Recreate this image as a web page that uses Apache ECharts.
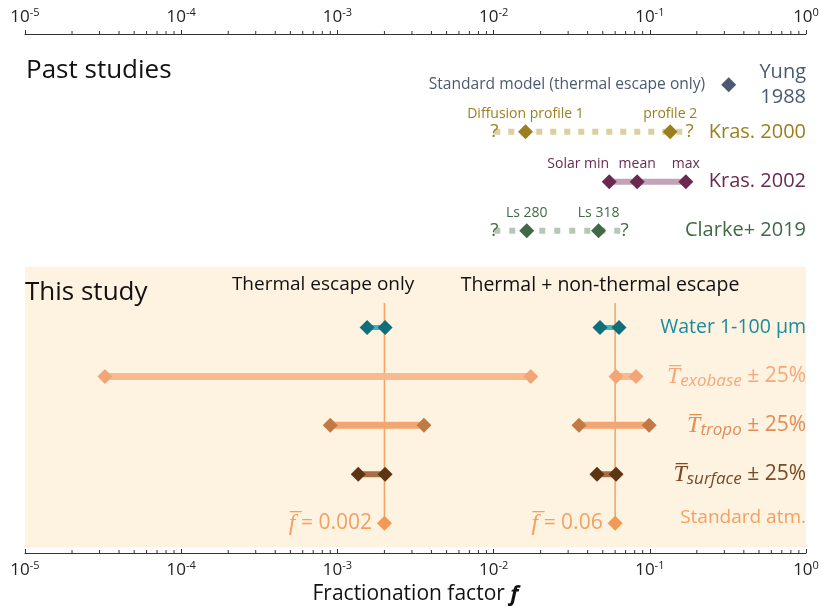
<!DOCTYPE html>
<html>
<head>
<meta charset="utf-8">
<script src="https://cdn.jsdelivr.net/npm/echarts@6/dist/echarts.min.js"></script>
<style>
  html, body { margin: 0; padding: 0; background: #fff; }
  #main { width: 830px; height: 615px; }
</style>
</head>
<body>
<div id="main"></div>
<script>
// ---- data ----
var yungF = [0.32];
var kras2000F = [0.016, 0.135];
var kras2000Range = [0.0101, 0.18];
var kras2002F = [0.055, 0.083, 0.17];
var clarkeF = [0.0163, 0.047];
var clarkeRange = [0.0101, 0.069];

var waterThermal = [0.00155, 0.00202];
var waterNonThermal = [0.048, 0.0635];
var exobaseThermal = [3.25e-5, 0.0173];
var exobaseNonThermal = [0.0608, 0.0816];
var tropoThermal = [0.0009, 0.00358];
var tropoNonThermal = [0.0352, 0.099];
var surfaceThermal = [0.00136, 0.00202];
var surfaceNonThermal = [0.0459, 0.0608];
var standardF = [0.002, 0.06];

var tickExponents = [-5, -4, -3, -2, -1, 0];
var minorMantissa = [2, 3, 4, 5, 6, 7, 8, 9];

var kras2000Labels = ['Diffusion profile 1', 'profile 2'];
var kras2002Labels = ['Solar min', 'mean', 'max'];
var clarkeLabels = ['Ls 280', 'Ls 318'];

// row positions (y axis runs top -> bottom)
var row = { yung: 1.04, kras2000: 2, kras2002: 3.02, clarke: 4.02,
            water: 6, exobase: 7, tropo: 8, surface: 9, standard: 10 };
var yMax = 10.61;

var FONT = 'Open Sans';

function range(xs, y, color, width, dash) {
  return {
    type: 'line', silent: true, z: 2, symbol: 'none', animation: false,
    data: [[xs[0], y], [xs[xs.length - 1], y]],
    lineStyle: { color: color, width: width, type: dash || 'solid', cap: 'butt' }
  };
}

function vline(x, y0, y1, color, width) {
  return {
    type: 'line', silent: true, z: 2, symbol: 'none',
    data: [[x, y0], [x, y1]],
    lineStyle: { color: color, width: width }
  };
}

function diamonds(xs, y, color, labels) {
  return {
    type: 'scatter', silent: true, z: 5, symbol: 'diamond', symbolSize: 15,
    itemStyle: { color: color, opacity: 1 },
    data: xs.map(function (x, i) {
      var item = { value: [x, y] };
      if (labels && labels[i]) item.label = labels[i];
      return item;
    })
  };
}

function text(x, y, content, pos, style) {
  var lab = Object.assign({ show: true, position: pos, distance: 0,
                            formatter: content, fontFamily: FONT }, style);
  return {
    type: 'scatter', silent: true, z: 6, symbolSize: 0, clip: false,
    itemStyle: { opacity: 1 },
    data: [{ value: [x, y] }],
    label: lab
  };
}

function subLabel(name, color, pos, offset) {
  return { show: true, position: pos || 'top', distance: 3, formatter: name,
           color: color, fontSize: 14, fontFamily: FONT, offset: offset || [0, 0] };
}

// minor ticks on both axes
var minorTop = [], minorBottom = [];
tickExponents.slice(0, -1).forEach(function (e) {
  minorMantissa.forEach(function (m) {
    minorTop.push([m * Math.pow(10, e), 0]);
    minorBottom.push([m * Math.pow(10, e), yMax]);
  });
});

var C = {
  yung: '#4b5a72',
  k00: '#9b7f1f', k00Line: '#dad0a0',
  k02: '#6a2a50', k02Line: '#c3a3b8',
  clarke: '#3f6a45', clarkeLine: '#b7c7b7',
  water: '#0f6f7c', waterLine: '#45b1ba', waterText: '#1a8c9c',
  exo: '#f2a678', exoLine: '#f9bb8d', exoText: '#f6a878',
  tropo: '#c27a44', tropoLine: '#f3a673', tropoText: '#e38c55',
  surf: '#5e3512', surfLine: '#a86e44', surfText: '#7a4a22',
  std: '#f09a55', stdLine: '#f3a263', stdText: '#f3a060'
};

function axisLabelFmt(v) {
  var e = Math.round(Math.log10(v));
  return '{b|10}{s|' + e + '}';
}
var axisRich = {
  b: { fontSize: 17, color: '#222', fontFamily: FONT },
  s: { fontSize: 11, color: '#222', fontFamily: FONT, padding: [0, 0, 9, 0] }
};

function tRich(color) {
  return {
    T: { fontSize: 24, fontStyle: 'italic', color: color, fontFamily: FONT },
    sub: { fontSize: 17, fontStyle: 'italic', color: color, fontFamily: FONT, padding: [9, 0, 0, 0] },
    pm: { fontSize: 21, color: color, fontFamily: FONT }
  };
}

var tickStyle = { color: '#333', opacity: 1 };

var series = [
  // background of "This study"
  {
    type: 'line', data: [], silent: true,
    markArea: {
      silent: true, itemStyle: { color: '#fef2e0' },
      data: [[{ coord: [1e-5, 4.76] }, { coord: [1, 10.49] }]]
    }
  },
  // minor ticks (pointing up on both axes)
  { type: 'scatter', silent: true, clip: false, symbol: 'rect', symbolSize: [1, 3],
    symbolOffset: [0, -1.5], itemStyle: tickStyle, data: minorTop },
  { type: 'scatter', silent: true, clip: false, symbol: 'rect', symbolSize: [1, 3],
    symbolOffset: [0, -1.5], itemStyle: tickStyle, data: minorBottom },

  // ---- past studies ----
  diamonds(yungF, row.yung, C.yung, [{ show: true, position: 'left', distance: 16,
    formatter: 'Standard model (thermal escape only)', color: C.yung, fontSize: 15.6, fontFamily: FONT }]),

  range(kras2000Range, row.kras2000, C.k00Line, 6, [6, 8]),
  diamonds(kras2000F, row.kras2000, C.k00, kras2000Labels.map(function (n) { return subLabel(n, C.k00); })),
  text(kras2000Range[0], row.kras2000, '?', 'inside', { color: C.k00, fontSize: 19 }),
  text(kras2000Range[1], row.kras2000, '?', 'inside', { color: C.k00, fontSize: 19 }),

  range([kras2002F[0], kras2002F[2]], row.kras2002, C.k02Line, 6),
  diamonds(kras2002F, row.kras2002, C.k02, [
    subLabel(kras2002Labels[0], C.k02, 'top', [-31, 0]),
    subLabel(kras2002Labels[1], C.k02),
    subLabel(kras2002Labels[2], C.k02)
  ]),

  range(clarkeRange, row.clarke, C.clarkeLine, 6, [6, 9]),
  diamonds(clarkeF, row.clarke, C.clarke, clarkeLabels.map(function (n) { return subLabel(n, C.clarke); })),
  text(clarkeRange[0], row.clarke, '?', 'inside', { color: C.clarke, fontSize: 19 }),
  text(clarkeRange[1], row.clarke, '?', 'inside', { color: C.clarke, fontSize: 19 }),

  // ---- this study ----
  vline(standardF[0], 5.5, row.standard, C.stdLine, 1.5),
  vline(standardF[1], 5.5, row.standard, C.stdLine, 1.5),

  range(waterThermal, row.water, C.waterLine, 5),
  range(waterNonThermal, row.water, C.waterLine, 5),
  diamonds(waterThermal.concat(waterNonThermal), row.water, C.water),

  range(exobaseThermal, row.exobase, C.exoLine, 7),
  range(exobaseNonThermal, row.exobase, C.exoLine, 7),
  diamonds(exobaseThermal.concat(exobaseNonThermal), row.exobase, C.exo),

  range(tropoThermal, row.tropo, C.tropoLine, 7),
  range(tropoNonThermal, row.tropo, C.tropoLine, 7),
  diamonds(tropoThermal.concat(tropoNonThermal), row.tropo, C.tropo),

  range(surfaceThermal, row.surface, C.surfLine, 6),
  range(surfaceNonThermal, row.surface, C.surfLine, 6),
  diamonds(surfaceThermal.concat(surfaceNonThermal), row.surface, C.surf),

  diamonds(standardF, row.standard, C.std, standardF.map(function (f) {
    return { show: true, position: 'left', distance: 5,
             formatter: '{f|f\u0305}{eq| = ' + f + '}',
             rich: {
               f: { fontSize: 24, fontStyle: 'italic', color: C.stdText, fontFamily: FONT },
               eq: { fontSize: 21, color: C.stdText, fontFamily: FONT }
             } };
  })),

  // ---- text ----
  text(1e-5, 0.74, 'Past studies', 'right', { color: '#111', fontSize: 26, distance: 1 }),
  text(1e-5, 5.28, 'This study', 'right', { color: '#111', fontSize: 26, distance: 0 }),
  text(8.1e-4, 5.13, 'Thermal escape only', 'inside', { color: '#111', fontSize: 19 }),
  text(0.048, 5.13, 'Thermal + non-thermal escape', 'inside', { color: '#111', fontSize: 19.5 }),

  text(1, row.yung, 'Yung\n1988', 'left', { color: C.yung, fontSize: 20, lineHeight: 25, align: 'right' }),
  text(1, row.kras2000, 'Kras. 2000', 'left', { color: C.k00, fontSize: 20 }),
  text(1, row.kras2002, 'Kras. 2002', 'left', { color: C.k02, fontSize: 20 }),
  text(1, row.clarke, 'Clarke+ 2019', 'left', { color: C.clarke, fontSize: 20 }),

  text(1, row.water, 'Water 1-100 \u00b5m', 'left', { color: C.waterText, fontSize: 19.5 }),
  text(1, row.exobase, '{T|T\u0305}{sub|exobase}{pm| \u00b1 25%}', 'left', { rich: tRich(C.exoText) }),
  text(1, row.tropo, '{T|T\u0305}{sub|tropo}{pm| \u00b1 25%}', 'left', { rich: tRich(C.tropoText) }),
  text(1, row.surface, '{T|T\u0305}{sub|surface}{pm| \u00b1 25%}', 'left', { rich: tRich(C.surfText) }),
  text(1, 9.88, 'Standard atm.', 'left', { color: C.stdText, fontSize: 19 })
];

var xAxisBase = {
  type: 'log', logBase: 10, min: 1e-5, max: 1,
  splitLine: { show: false },
  minorTick: { show: false },
  axisLine: { onZero: false, lineStyle: { color: '#333', width: 1 } },
  axisLabel: { formatter: axisLabelFmt, rich: axisRich, margin: 7 }
};

var option = {
  animation: false,
  grid: { left: 25, right: 24, top: 34, bottom: 62 },
  xAxis: [
    Object.assign({}, xAxisBase, {
      position: 'bottom',
      axisTick: { inside: true, length: 4, lineStyle: { color: '#333' } },
      name: 'Fractionation factor {i|f}',
      nameLocation: 'middle', nameGap: 30,
      nameTextStyle: {
        fontSize: 21, color: '#111', fontFamily: FONT,
        rich: { i: { fontSize: 22, fontStyle: 'italic', fontWeight: 'bold', color: '#111', fontFamily: FONT } }
      }
    }),
    Object.assign({}, xAxisBase, {
      position: 'top',
      axisTick: { inside: false, length: 4, lineStyle: { color: '#333' } }
    })
  ],
  yAxis: { type: 'value', min: 0, max: yMax, inverse: true, show: false },
  series: series
};

var chart = echarts.init(document.getElementById('main'));
chart.setOption(option);
</script>
</body>
</html>
